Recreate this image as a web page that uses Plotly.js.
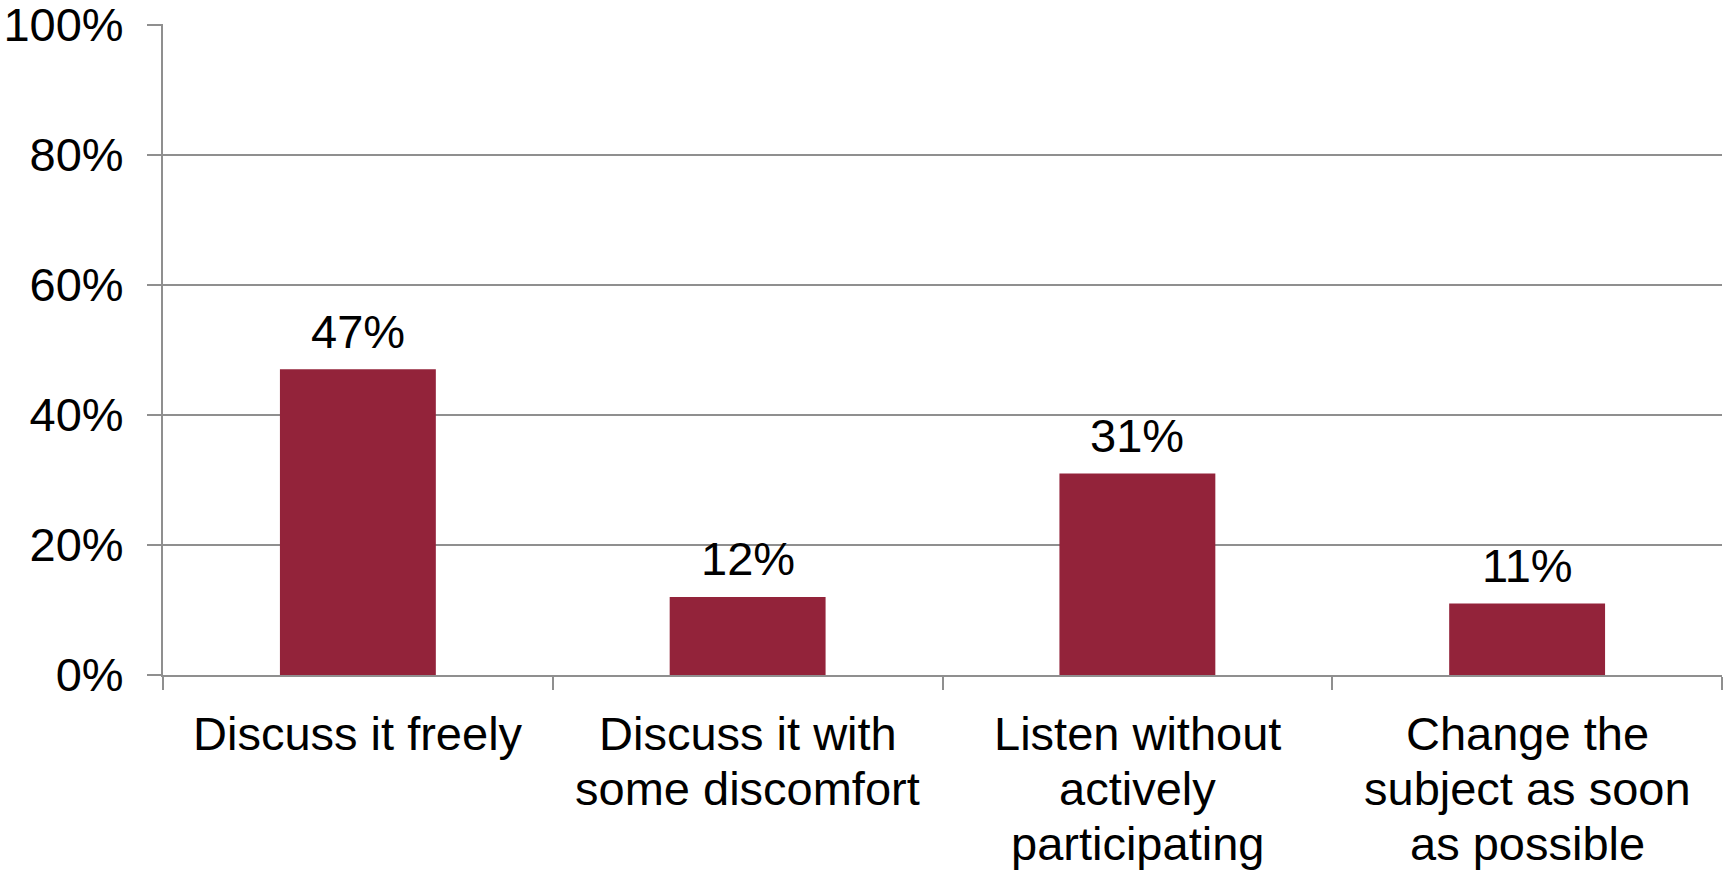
<!DOCTYPE html>
<html>
<head>
<meta charset="utf-8">
<script src="https://cdn.plot.ly/plotly-3.0.1.min.js"></script>
<style>html,body{margin:0;padding:0;background:#fff;}#chart{width:1729px;height:873px;}</style>
</head>
<body>
<div id="chart"></div>
<script>
const categories = ["Discuss it freely", "Discuss it with<br>some discomfort", "Listen without<br>actively<br>participating", "Change the<br>subject as soon<br>as possible"];
const values = [0.47, 0.12, 0.31, 0.11];
const valueLabels = ["47%", "12%", "31%", "11%"];
const yTickVals = [0, 0.2, 0.4, 0.6, 0.8, 1.0];
const yTickText = ["0%", "20%", "40%", "60%", "80%", "100%"];

const font = {family: "Liberation Sans, Arial, sans-serif", size: 47, color: "#000"};
const gray = "#8f8f8f";

const trace = {
  type: "bar",
  x: categories,
  y: values,
  marker: {color: "#93233A"},
  width: 0.4,
  hoverinfo: "skip"
};

const annotations = categories.map((c, i) => ({
  x: c, y: values[i], xref: "x", yref: "y",
  text: valueLabels[i], showarrow: false,
  yanchor: "middle", yshift: 38,
  font: font
}));

// category labels, one annotation per line for tighter line spacing
categories.forEach((c) => {
  c.split("<br>").forEach((line, j) => {
    annotations.push({
      x: c, y: 0, xref: "x", yref: "y",
      text: line, showarrow: false,
      yanchor: "middle", yshift: -(58 + 55 * j),
      font: font
    });
  });
});

const layout = {
  width: 1729, height: 873,
  margin: {l: 163, r: 7, t: 24, b: 198},
  paper_bgcolor: "#fff", plot_bgcolor: "#fff",
  font: font,
  showlegend: false,
  bargap: 0.6,
  xaxis: {
    type: "category",
    showline: true, linecolor: gray, linewidth: 2,
    ticks: "outside", tickson: "boundaries", ticklen: 13, tickwidth: 2, tickcolor: gray,
    showgrid: false, zeroline: false,
    showticklabels: false, automargin: false
  },
  yaxis: {
    range: [0, 1.001],
    tickvals: yTickVals, ticktext: yTickText,
    showline: true, linecolor: gray, linewidth: 2,
    ticks: "outside", ticklen: 14, tickwidth: 2, tickcolor: gray,
    showgrid: true, gridcolor: gray, gridwidth: 2,
    zeroline: false,
    tickfont: font, automargin: false,
    ticklabelstandoff: 14, ticklabeloverflow: "allow"
  },
  annotations: annotations
};

Plotly.newPlot("chart", [trace], layout, {displayModeBar: false, staticPlot: true});
</script>
</body>
</html>
